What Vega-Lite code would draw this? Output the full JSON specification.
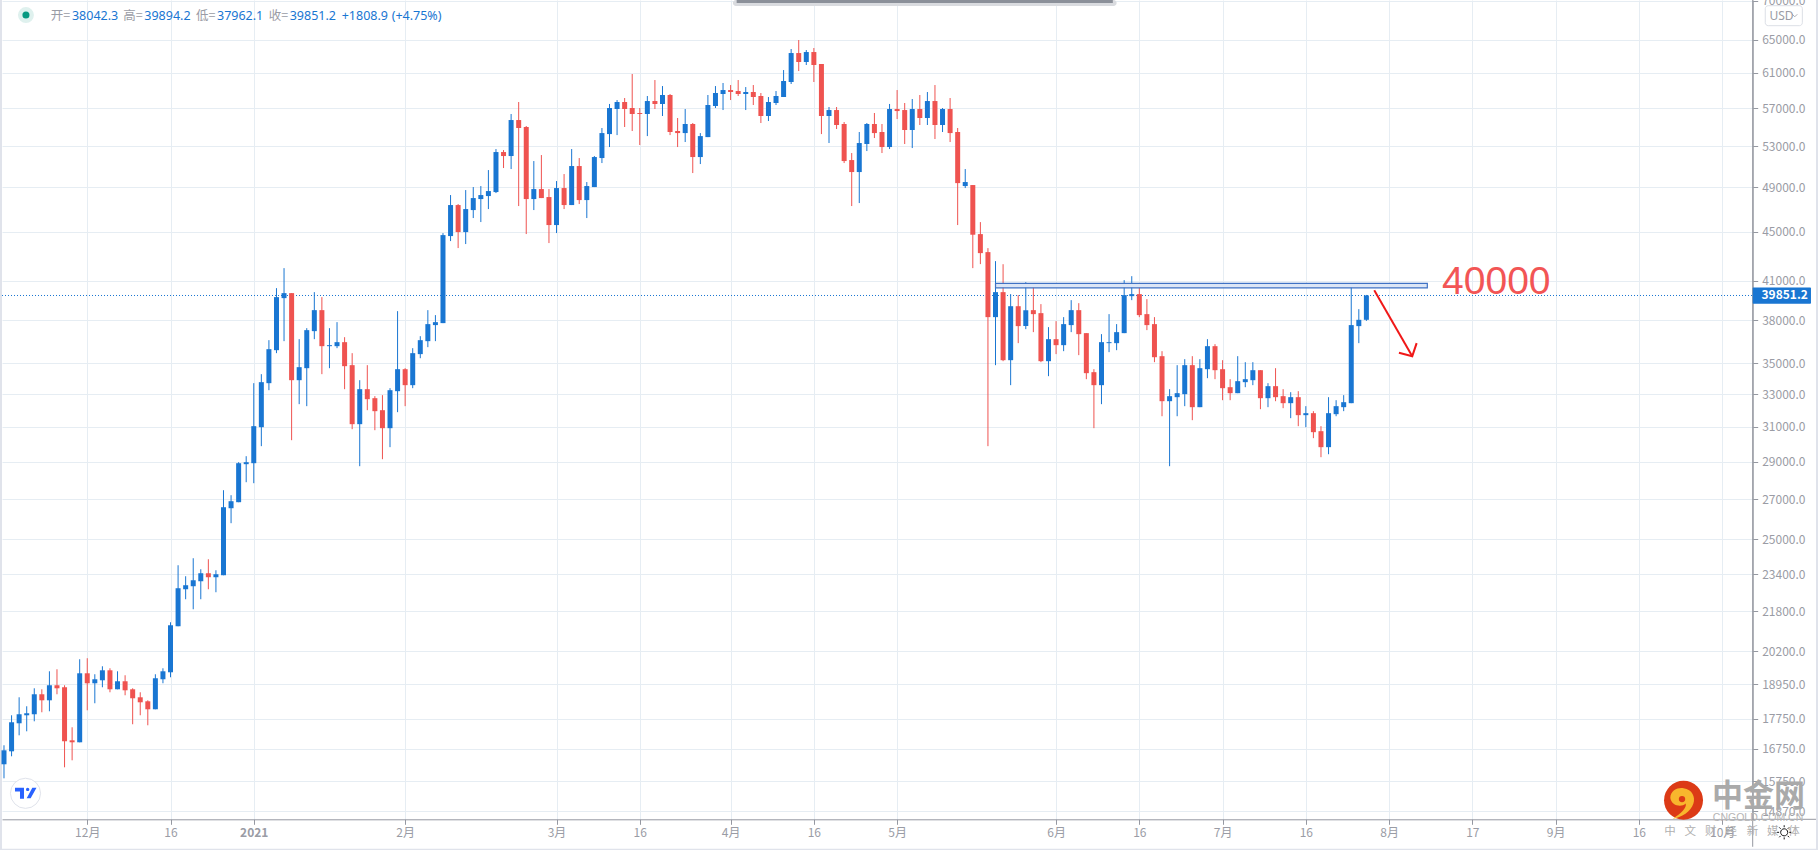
{"$schema":"https://vega.github.io/schema/vega-lite/v6.json","width":1750.7,"height":819.3,"autosize":{"type":"none"},"padding":{"left":2,"top":0,"right":65.3,"bottom":30.7},"background":"#ffffff","config":{"view":{"stroke":null},"axis":{"gridColor":"#e6edf3","gridWidth":1,"domainColor":"#9598a1","tickColor":"#9598a1","tickSize":5,"labelColor":"#9a9ca5","labelFont":"Noto Sans CJK SC","labelFontSize":12,"labelOverlap":false,"labelBound":false,"labelFlush":false,"title":null}},
"datasets":{"candles":[
{"i":0,"o":16268,"h":16869,"l":15837,"c":16708},{"i":1,"o":16676,"h":17865,"l":16518,"c":17628},{"i":2,"o":17594,"h":18490,"l":17194,"c":17900},{"i":3,"o":17865,"h":18175,"l":17326,"c":17934},{"i":4,"o":17900,"h":18811,"l":17661,"c":18597},{"i":5,"o":18597,"h":18775,"l":17968,"c":18384},{"i":6,"o":18384,"h":19432,"l":18002,"c":18920},{"i":7,"o":18920,"h":19507,"l":18597,"c":18811},{"i":8,"o":18848,"h":18920,"l":16174,"c":16998},{"i":9,"o":17030,"h":17460,"l":16392,"c":16966},
{"i":10,"o":16966,"h":19884,"l":16966,"c":19358},{"i":11,"o":19358,"h":19923,"l":18036,"c":18992},{"i":12,"o":18992,"h":19322,"l":18280,"c":19138},{"i":13,"o":19101,"h":19619,"l":18848,"c":19469},{"i":14,"o":19469,"h":19544,"l":18668,"c":18775},{"i":15,"o":18775,"h":19432,"l":18775,"c":19065},{"i":16,"o":19065,"h":19285,"l":18561,"c":18739},{"i":17,"o":18775,"h":18811,"l":17561,"c":18455},{"i":18,"o":18490,"h":18668,"l":17865,"c":18314},{"i":19,"o":18349,"h":18384,"l":17527,"c":18071},
{"i":20,"o":18071,"h":19322,"l":18071,"c":19175},{"i":21,"o":19138,"h":19544,"l":18992,"c":19432},{"i":22,"o":19395,"h":21341,"l":19211,"c":21219},{"i":23,"o":21179,"h":23798,"l":21179,"c":22775},{"i":24,"o":22731,"h":23303,"l":22301,"c":22906},{"i":25,"o":22862,"h":24119,"l":21878,"c":23125},{"i":26,"o":23081,"h":23616,"l":22301,"c":23437},{"i":27,"o":23437,"h":24072,"l":22731,"c":23259},{"i":28,"o":23259,"h":23571,"l":22601,"c":23393},{"i":29,"o":23348,"h":27468,"l":23348,"c":26589},
{"i":30,"o":26538,"h":27207,"l":25789,"c":26896},{"i":31,"o":26845,"h":28979,"l":26845,"c":28923},{"i":32,"o":28869,"h":29313,"l":27891,"c":28979},{"i":33,"o":28923,"h":33703,"l":27838,"c":31044},{"i":34,"o":30984,"h":34288,"l":29880,"c":33768},{"i":35,"o":33703,"h":36590,"l":33254,"c":35966},{"i":36,"o":35897,"h":40416,"l":35693,"c":39728},{"i":37,"o":39651,"h":41991,"l":36521,"c":40032},{"i":38,"o":40032,"h":40032,"l":30223,"c":33896},{"i":39,"o":33896,"h":36660,"l":32377,"c":34750},
{"i":40,"o":34683,"h":37440,"l":32254,"c":37298},{"i":41,"o":37227,"h":40108,"l":36660,"c":38751},{"i":42,"o":38751,"h":39727,"l":34288,"c":36173},{"i":43,"o":36173,"h":37440,"l":34683,"c":36243},{"i":44,"o":36173,"h":37872,"l":36035,"c":36451},{"i":45,"o":36451,"h":36800,"l":33318,"c":34816},{"i":46,"o":34883,"h":35693,"l":30865,"c":31163},{"i":47,"o":31163,"h":33896,"l":28758,"c":33318},{"i":48,"o":33318,"h":34883,"l":32007,"c":32687},{"i":49,"o":32750,"h":32876,"l":30806,"c":31947},
{"i":50,"o":32007,"h":32939,"l":29145,"c":30925},{"i":51,"o":30925,"h":33382,"l":29823,"c":33254},{"i":52,"o":33191,"h":38677,"l":31886,"c":34616},{"i":53,"o":34616,"h":34683,"l":32254,"c":33575},{"i":54,"o":33575,"h":36035,"l":33382,"c":35693},{"i":55,"o":35627,"h":36870,"l":35350,"c":36590},{"i":56,"o":36521,"h":38751,"l":36104,"c":37730},{"i":57,"o":37659,"h":38384,"l":36521,"c":37872},{"i":58,"o":37802,"h":44899,"l":37802,"c":44727},{"i":59,"o":44645,"h":48285,"l":44219,"c":47371},
{"i":60,"o":47371,"h":47462,"l":43632,"c":44988},{"i":61,"o":44988,"h":48747,"l":43968,"c":47009},{"i":62,"o":46919,"h":49029,"l":46208,"c":48008},{"i":63,"o":47916,"h":49123,"l":45856,"c":48285},{"i":64,"o":48193,"h":50647,"l":47009,"c":48655},{"i":65,"o":48562,"h":52722,"l":48470,"c":52422},{"i":66,"o":52422,"h":52621,"l":50843,"c":52023},{"i":67,"o":52023,"h":56374,"l":50745,"c":55729},{"i":68,"o":55729,"h":57681,"l":47281,"c":54886},{"i":69,"o":54992,"h":55097,"l":44817,"c":47916},
{"i":70,"o":47916,"h":51527,"l":46919,"c":48841},{"i":71,"o":48841,"h":52122,"l":48008,"c":48008},{"i":72,"o":48101,"h":48841,"l":44051,"c":45594},{"i":73,"o":45594,"h":49594,"l":44902,"c":48935},{"i":74,"o":48935,"h":50263,"l":47009,"c":47371},{"i":75,"o":47371,"h":52722,"l":47371,"c":51038},{"i":76,"o":51038,"h":51824,"l":47462,"c":47824},{"i":77,"o":47824,"h":49500,"l":46208,"c":49123},{"i":78,"o":49029,"h":52023,"l":49029,"c":51923},{"i":79,"o":51824,"h":54886,"l":51331,"c":54358},
{"i":80,"o":54253,"h":57466,"l":52926,"c":57023},{"i":81,"o":56914,"h":57900,"l":54148,"c":57681},{"i":82,"o":57681,"h":58124,"l":54992,"c":56914},{"i":83,"o":57023,"h":60853,"l":54571,"c":56374},{"i":84,"o":56482,"h":57023,"l":53130,"c":56374},{"i":85,"o":56374,"h":58347,"l":54045,"c":57790},{"i":86,"o":57790,"h":60157,"l":56914,"c":57466},{"i":87,"o":57466,"h":59469,"l":56160,"c":58459},{"i":88,"o":58459,"h":58570,"l":54148,"c":54467},{"i":89,"o":54571,"h":55945,"l":52926,"c":54358},
{"i":90,"o":54358,"h":56914,"l":53435,"c":55307},{"i":91,"o":55307,"h":55412,"l":50359,"c":51923},{"i":92,"o":51923,"h":54358,"l":51233,"c":54045},{"i":93,"o":53941,"h":58459,"l":53941,"c":57352},{"i":94,"o":57243,"h":59469,"l":57023,"c":58682},{"i":95,"o":58570,"h":59816,"l":56804,"c":59018},{"i":96,"o":59018,"h":59585,"l":57900,"c":58794},{"i":97,"o":58906,"h":60157,"l":58347,"c":58570},{"i":98,"o":58570,"h":59355,"l":56804,"c":58794},{"i":99,"o":58794,"h":59585,"l":57352,"c":58235},
{"i":100,"o":58347,"h":58682,"l":55412,"c":56160},{"i":101,"o":56160,"h":58235,"l":55624,"c":57681},{"i":102,"o":57573,"h":58906,"l":57352,"c":58347},{"i":103,"o":58235,"h":61317,"l":58235,"c":60043},{"i":104,"o":59930,"h":63830,"l":59701,"c":63342},{"i":105,"o":63342,"h":64938,"l":61200,"c":62266},{"i":106,"o":62266,"h":63708,"l":61910,"c":63464},{"i":107,"o":63464,"h":63952,"l":59930,"c":61910},{"i":108,"o":62028,"h":62028,"l":54253,"c":56160},{"i":109,"o":56160,"h":57133,"l":53333,"c":56804},
{"i":110,"o":56804,"h":57133,"l":54780,"c":55202},{"i":111,"o":55307,"h":55518,"l":51331,"c":51527},{"i":112,"o":51625,"h":52322,"l":47281,"c":50455},{"i":113,"o":50455,"h":54467,"l":47552,"c":53333},{"i":114,"o":53232,"h":55412,"l":52521,"c":55307},{"i":115,"o":55307,"h":56482,"l":53845,"c":54358},{"i":116,"o":54467,"h":55307,"l":52322,"c":52926},{"i":117,"o":52926,"h":57466,"l":52722,"c":56914},{"i":118,"o":56914,"h":59018,"l":55833,"c":56694},{"i":119,"o":56804,"h":57573,"l":53232,"c":54675},
{"i":120,"o":54675,"h":58012,"l":52824,"c":56914},{"i":121,"o":56914,"h":58459,"l":55202,"c":55945},{"i":122,"o":55945,"h":58794,"l":55202,"c":57790},{"i":123,"o":57790,"h":59585,"l":53741,"c":55202},{"i":124,"o":55202,"h":57023,"l":54467,"c":56914},{"i":125,"o":56914,"h":58124,"l":53435,"c":54358},{"i":126,"o":54467,"h":54886,"l":45594,"c":49400},{"i":127,"o":49123,"h":50745,"l":48935,"c":49500},{"i":128,"o":49217,"h":49217,"l":41991,"c":44760},{"i":129,"o":44812,"h":45852,"l":42314,"c":43213},
{"i":130,"o":43296,"h":43627,"l":29880,"c":38237},{"i":131,"o":38237,"h":42556,"l":34883,"c":40108},{"i":132,"o":40108,"h":42307,"l":35150,"c":35217},{"i":133,"o":35217,"h":39956,"l":33575,"c":39044},{"i":134,"o":39044,"h":39880,"l":36382,"c":37586},{"i":135,"o":37586,"h":40880,"l":37369,"c":38751},{"i":136,"o":38751,"h":40490,"l":37156,"c":38457},{"i":137,"o":38530,"h":39200,"l":35083,"c":35150},{"i":138,"o":35150,"h":37513,"l":34157,"c":36660},{"i":139,"o":36660,"h":37945,"l":35627,"c":36243},
{"i":140,"o":36243,"h":38237,"l":35829,"c":37730},{"i":141,"o":37659,"h":39499,"l":37156,"c":38751},{"i":142,"o":38751,"h":39271,"l":35557,"c":37014},{"i":143,"o":37085,"h":37085,"l":33961,"c":34354},{"i":144,"o":34419,"h":34616,"l":30925,"c":33575},{"i":145,"o":33575,"h":37014,"l":32377,"c":36451},{"i":146,"o":36382,"h":38457,"l":35761,"c":36451},{"i":147,"o":36382,"h":37730,"l":35897,"c":37156},{"i":148,"o":37085,"h":41037,"l":37085,"c":39880},{"i":149,"o":39803,"h":41350,"l":39499,"c":39956},
{"i":150,"o":39956,"h":40490,"l":38237,"c":38384},{"i":151,"o":38457,"h":39575,"l":37298,"c":37659},{"i":152,"o":37730,"h":38237,"l":35083,"c":35418},{"i":153,"o":35487,"h":35829,"l":31640,"c":32562},{"i":154,"o":32562,"h":33318,"l":28758,"c":32876},{"i":155,"o":32813,"h":34883,"l":31640,"c":33065},{"i":156,"o":33002,"h":35284,"l":32254,"c":34883},{"i":157,"o":34883,"h":35487,"l":31401,"c":32192},{"i":158,"o":32192,"h":35284,"l":32192,"c":34683},{"i":159,"o":34616,"h":36660,"l":34026,"c":36173},
{"i":160,"o":36173,"h":36312,"l":33961,"c":34550},{"i":161,"o":34616,"h":35217,"l":32624,"c":33382},{"i":162,"o":33445,"h":33961,"l":32624,"c":33065},{"i":163,"o":33065,"h":35487,"l":33065,"c":33832},{"i":164,"o":33768,"h":35083,"l":33445,"c":33961},{"i":165,"o":33896,"h":35083,"l":33575,"c":34550},{"i":166,"o":34550,"h":34550,"l":32069,"c":32750},{"i":167,"o":32750,"h":33703,"l":32192,"c":33511},{"i":168,"o":33511,"h":34683,"l":32562,"c":32813},{"i":169,"o":32876,"h":33318,"l":32130,"c":32439},
{"i":170,"o":32439,"h":33128,"l":31522,"c":32813},{"i":171,"o":32813,"h":33191,"l":31044,"c":31704},{"i":172,"o":31704,"h":32254,"l":30984,"c":31825},{"i":173,"o":31825,"h":31947,"l":30340,"c":30690},{"i":174,"o":30748,"h":31044,"l":29257,"c":29823},{"i":175,"o":29823,"h":32813,"l":29423,"c":31825},{"i":176,"o":31764,"h":32624,"l":31640,"c":32254},{"i":177,"o":32192,"h":32939,"l":31947,"c":32500},{"i":178,"o":32439,"h":40571,"l":32439,"c":37659},{"i":179,"o":37586,"h":38825,"l":36382,"c":38042},
{"i":180,"o":38042.3,"h":39894.2,"l":37962.1,"c":39851.2}
]},
"encoding":{"x":{"field":"i","type":"quantitative","scale":{"domain":[-0.264,231.04],"nice":false,"zero":false,"padding":0},"axis":{"values":[11,22,33,53,73,84,96,107,118,139,150,161,172,183,194,205,216,227],"labelExpr":"{'11':'12月','22':'16','33':'2021','53':'2月','73':'3月','84':'16','96':'4月','107':'16','118':'5月','139':'6月','150':'16','161':'7月','172':'16','183':'8月','194':'17','205':'9月','216':'16','227':'10月'}[datum.value]","labelPadding":3,"labelFontWeight":{"condition":{"test":"datum.value==33","value":"bold"},"value":"normal"}}},
"y":{"field":"v","type":"quantitative","scale":{"type":"log","domain":[14644,70100],"nice":false,"padding":0},"axis":{"orient":"right","values":[14870,15750,16750,17750,18950,20200,21800,23400,25000,27000,29000,31000,33000,35000,38000,41000,45000,49000,53000,57000,61000,65000,70000],"format":".1f","labelPadding":4}}},
"layer":[
{"data":{"values":[{"i":-0.528,"i2":-0.264,"v":70100,"v2":13788},{"i":239.4,"i2":239.7,"v":70100,"v2":13788},{"i":-0.528,"i2":239.7,"v":13841,"v2":13788}]},"mark":{"type":"rect","fill":"#e0e3eb"},"encoding":{"x2":{"field":"i2"},"y2":{"field":"v2"}}},
{"data":{"values":[{"i":231.04,"v":14644,"v2":13895},{"i":231.04,"v":70100,"v2":14644}]},"mark":{"type":"rule","color":"#9598a1","strokeWidth":1},"encoding":{"y2":{"field":"v2"}}},
{"data":{"values":[{"i":231.04,"i2":239.4,"v":14644}]},"mark":{"type":"rule","color":"#9598a1","strokeWidth":1},"encoding":{"x2":{"field":"i2"}}},
{"data":{"values":[{"i":96.3,"i2":147,"v":70100,"v2":69300}]},"mark":{"type":"rect","fill":"#d9dbdf","cornerRadius":3},"encoding":{"x2":{"field":"i2"},"y2":{"field":"v2"}}},
{"data":{"values":[{"i":96.8,"i2":146.5,"v":70100,"v2":69698}]},"mark":{"type":"rect","fill":"#8b9099"},"encoding":{"x2":{"field":"i2"},"y2":{"field":"v2"}}},
{"data":{"values":[{"i":-0.264,"i2":231.04,"v":39851.2}]},"mark":{"type":"rule","color":"#1976d2","strokeWidth":1,"strokeDash":[1,2]},"encoding":{"x2":{"field":"i2"}}},
{"data":{"name":"candles"},"mark":{"type":"rule","strokeWidth":1},"encoding":{"y":{"field":"h","type":"quantitative"},"y2":{"field":"l"},"color":{"condition":{"test":"datum.c>=datum.o","value":"#1976d2"},"value":"#ef5350"}}},
{"data":{"name":"candles"},"mark":{"type":"bar","size":5},"encoding":{"y":{"field":"o","type":"quantitative"},"y2":{"field":"c"},"color":{"condition":{"test":"datum.c>=datum.o","value":"#1976d2"},"value":"#ef5350"}}},
{"data":{"values":[{"i":131,"i2":188.05,"v":40781,"v2":40440}]},"mark":{"type":"rect","fill":"#dce6f6","stroke":"#3f72c4","strokeWidth":1.2},"encoding":{"x2":{"field":"i2"},"y2":{"field":"v2"}}},
{"data":{"values":[{"i":181.04,"v":40261,"seg":"shaft","n":1},{"i":186.06,"v":35487,"seg":"shaft","n":2},{"i":184.3,"v":35716,"seg":"head","n":1},{"i":186.06,"v":35487,"seg":"head","n":2},{"i":186.64,"v":36382,"seg":"head","n":3}]},"mark":{"type":"line","color":"#f01818","strokeWidth":2},"encoding":{"detail":{"field":"seg"},"order":{"field":"n"}}},
{"data":{"values":[{"text":"40000","i":190,"v":39956}]},"mark":{"type":"text","align":"left","baseline":"alphabetic","font":"Liberation Sans","fontSize":39,"color":"#f25555"},"encoding":{"text":{"field":"text"}}},
{"data":{"values":[{"i":231.04,"i2":238.74,"v":40464,"v2":39222}]},"mark":{"type":"rect","fill":"#1976d2","cornerRadius":1},"encoding":{"x2":{"field":"i2"},"y2":{"field":"v2"}}},
{"data":{"values":[{"text":"39851.2","i":232.2,"v":39851.2}]},"mark":{"type":"text","align":"left","baseline":"middle","font":"Noto Sans CJK SC","fontSize":12,"fontWeight":"bold","color":"#ffffff"},"encoding":{"text":{"field":"text"}}},
{"data":{"values":[{"i":232.7,"i2":237.6,"v":69339,"v2":66740}]},"mark":{"type":"rect","fill":"#ffffff","stroke":"#dcdfe6","strokeWidth":1,"cornerRadius":3},"encoding":{"x2":{"field":"i2"},"y2":{"field":"v2"}}},
{"data":{"values":[{"text":"USD","i":233.25,"v":68050}]},"mark":{"type":"text","align":"left","baseline":"middle","font":"Noto Sans","fontSize":12,"color":"#9a9ca5"},"encoding":{"text":{"field":"text"}}},
{"data":{"values":[{"i":236.6,"v":68050}]},"mark":{"type":"point","shape":"M-1 -0.5L0 0.5L1 -0.5","filled":false,"size":25,"stroke":"#8a8d96","strokeWidth":1}},
{"data":{"values":[{"i":2.9,"v":68115}]},"mark":{"type":"point","shape":"circle","filled":true,"size":254,"opacity":1,"color":"#dff1ee"}},
{"data":{"values":[{"i":2.9,"v":68115}]},"mark":{"type":"point","shape":"circle","filled":true,"size":50,"opacity":1,"color":"#089981"}},
{"data":{"values":[{"text":"开=","i":6.17,"v":67987},{"text":"高=","i":15.76,"v":67987},{"text":"低=","i":25.37,"v":67987},{"text":"收=","i":34.97,"v":67987}]},"mark":{"type":"text","align":"left","baseline":"middle","font":"Noto Sans CJK SC","fontSize":12.5,"color":"#9a9ca5"},"encoding":{"text":{"field":"text"}}},
{"data":{"values":[{"text":"38042.3","i":8.98,"v":67987},{"text":"39894.2","i":18.54,"v":67987},{"text":"37962.1","i":28.14,"v":67987},{"text":"39851.2","i":37.75,"v":67987},{"text":"+1808.9","i":44.62,"v":67987},{"text":"(+4.75%)","i":51.22,"v":67987}]},"mark":{"type":"text","align":"left","baseline":"middle","font":"Noto Sans","fontSize":12.5,"color":"#1976d2"},"encoding":{"text":{"field":"text"}}},
{"data":{"values":[{"i":2.84,"v":15390}]},"mark":{"type":"point","shape":"circle","filled":true,"size":907,"opacity":1,"fill":"#ffffff","stroke":"#e0e3eb","strokeWidth":1}},
{"data":{"values":[{"i":2.84,"v":15390}]},"mark":{"type":"point","shape":"M-0.955 -0.5H-0.136V0.5H-0.5V-0.167H-0.955Z M0.047 -0.348a0.15 0.15 0 1 0 0.3 0a0.15 0.15 0 1 0 -0.3 0Z M0.62 -0.5H1L0.47 0.45H0.106Z","filled":true,"size":484,"opacity":1,"color":"#2962ff"}},
{"data":{"values":[{"i":221.9,"v":15185}]},"mark":{"type":"point","shape":"circle","filled":true,"size":1520,"opacity":1,"color":"#dc3a16"}},
{"data":{"values":[{"i":221.9,"v":15185}]},"mark":{"type":"point","shape":"M-0.6 -0.1C-0.6 -0.5 -0.2 -0.6 0 -0.55C0.4 -0.5 0.55 -0.15 0.45 0.15C0.35 0.5 -0.1 0.8 -0.5 0.85C-0.1 0.6 0.15 0.35 0.1 0.15C-0.1 0.35 -0.55 0.25 -0.6 -0.1Z","filled":true,"size":1936,"opacity":1,"color":"#f8b62d"}},
{"data":{"values":[{"i":221.7,"v":15220}]},"mark":{"type":"point","shape":"circle","filled":true,"size":40,"opacity":1,"color":"#dc3a16"}},
{"data":{"values":[{"text":"中金网","i":231.8,"v":15274}]},"mark":{"type":"text","align":"center","baseline":"middle","font":"Noto Sans CJK SC","fontSize":31,"fontWeight":"bold","color":"#aaaaaa"},"encoding":{"text":{"field":"text"}}},
{"data":{"values":[{"text":"CNGOLD.COM.CN","i":231.75,"v":14673}]},"mark":{"type":"text","align":"center","baseline":"middle","font":"Liberation Sans","fontSize":10.5,"color":"#b5b5b5"},"encoding":{"text":{"field":"text"}}},
{"data":{"values":[{"text":"中","i":220.1,"v":14284},{"text":"文","i":222.8,"v":14284},{"text":"财","i":225.5,"v":14284},{"text":"经","i":228.2,"v":14284},{"text":"新","i":231,"v":14284},{"text":"媒","i":233.7,"v":14284},{"text":"体","i":236.5,"v":14284}]},"mark":{"type":"text","align":"center","baseline":"middle","font":"Noto Sans CJK SC","fontSize":11.5,"color":"#b0b0b0"},"encoding":{"text":{"field":"text"}}},
{"data":{"values":[{"i":235.2,"v":14284}]},"mark":{"type":"point","shape":"M0 -1V-0.72M0 1V0.72M-1 0H-0.72M1 0H0.72M-0.7 -0.7L-0.5 -0.5M0.7 0.7L0.5 0.5M-0.7 0.7L-0.5 0.5M0.7 -0.7L0.5 -0.5M0.5 0A0.5 0.5 0 1 1 -0.5 0A0.5 0.5 0 1 1 0.5 0Z","filled":false,"size":200,"opacity":1,"stroke":"#111111","strokeWidth":1}}
]}
